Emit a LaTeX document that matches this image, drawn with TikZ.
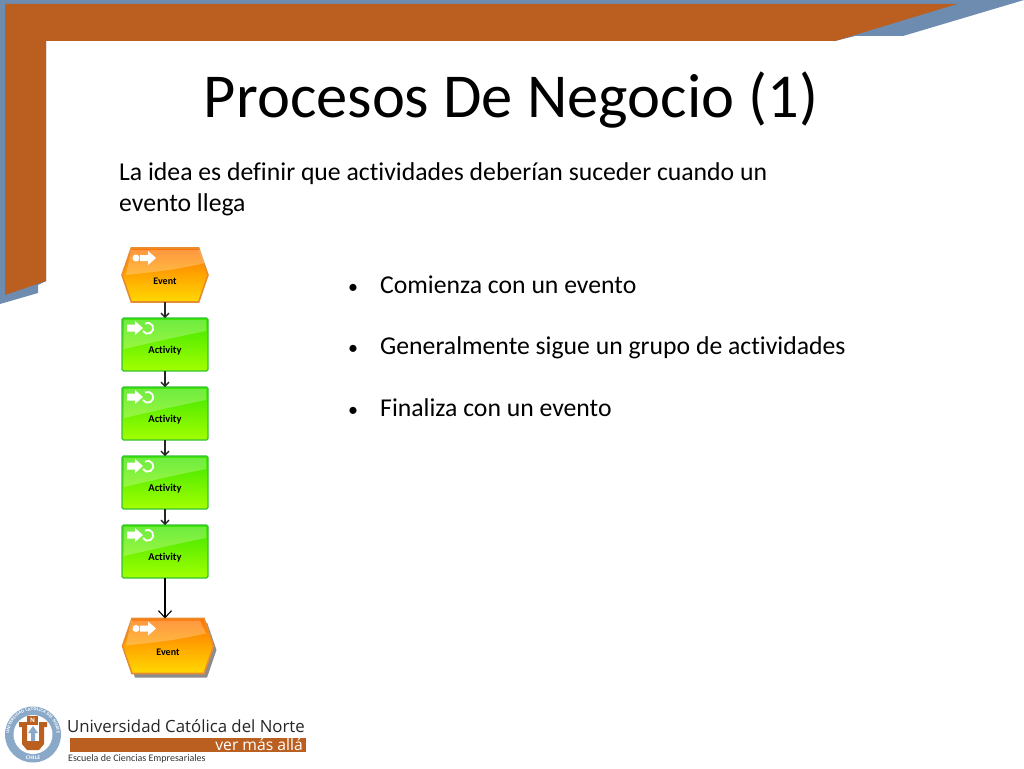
\documentclass[tikz,border=0pt]{standalone}
\usepackage{fontspec}
\setmainfont[RawFeature=-liga]{Carlito}
\newfontfamily\logofont{Open Sans}
\usetikzlibrary{positioning,arrows.meta,shapes.symbols,shadows,decorations.text}
\definecolor{bandorange}{HTML}{BA5F20}
\definecolor{bandblue}{HTML}{6E8BB0}
\definecolor{ringblue}{HTML}{8AA8C8}

\begin{document}
\begin{tikzpicture}[
    x=1pt,y=-1pt,
    eventbox/.style={signal,signal to=east and west,signal pointer angle=142,
		draw=orange!60!brown!90,line width=1.6pt,top color=orange!90!red,bottom color=yellow!70!orange,
		minimum width=86pt,minimum height=54pt,inner sep=0pt,outer sep=0pt,
		font=\bfseries\fontsize{10}{10}\selectfont,text height=19pt,text depth=0pt},
    activitybox/.style={rectangle,rounded corners=1.5pt,draw=green!70!black!80,line width=1.2pt,
		top color=green!65!lime!90!black,bottom color=lime!85!green,
		minimum width=86pt,minimum height=53pt,inner sep=0pt,outer sep=0pt,
		font=\bfseries\fontsize{10.5}{10.5}\selectfont,text height=18pt,text depth=0pt},
    flow/.style={draw=black!85,line width=1.3pt,-{Straight Barb[length=4pt,width=8pt]}},
    finalflow/.style={draw=black,line width=1.1pt,-{Straight Barb[length=7pt,width=13pt]}},
    bodytext/.style={anchor=base west,inner sep=0pt,font=\fontsize{25.7}{25.7}\selectfont,text=black},
    acticon/.pic={
	\fill[white,opacity=.25] (2,2) -- (84,2) -- (84,13) .. controls (50,20) .. (2,31) -- cycle;
	\fill[white] (5,6.5) -- (13,6.5) -- (13,3) -- (21,10) -- (13,17) -- (13,13.5) -- (5,13.5) -- cycle;
	\draw[white,line width=1.8pt] (23,5.5) arc (-120:150:5.5);
    },
    evicon/.pic={
	\fill[white,opacity=.25] (9,2) -- (78,2) -- (84,15) .. controls (50,22) .. (4,27) -- cycle;
	\fill[white] (14,10) circle (3.5);
	\fill[white] (18,7) -- (26,7) -- (26,3) -- (34,10) -- (26,17) -- (26,13) -- (18,13) -- cycle;
    }
]
    \useasboundingbox (0,0) rectangle (1024,768);

    % top band
    \fill[bandblue] (0,0) -- (1024,0) -- (903,36) -- (855,36) -- (835,41) -- (46,41) -- (46,281)
	-- (38,285) -- (38,293) -- (0,304) -- cycle;
    \fill[bandorange] (5,4) -- (957,4) -- (835,41) -- (46,41) -- (46,281) -- (5,295) -- cycle;

    \node (title) [anchor=base,inner sep=0pt,font=\fontsize{62.5}{62.5}\selectfont,text=black] at (511,117)
	{Procesos De Negocio (1)};
    \node (introa) [bodytext] at (119,180) {La idea es definir que actividades deberían suceder cuando un};
    \node (introb) [bodytext] at (119,211) {evento llega};

    \node (itema) [bodytext] at (348,293) {\makebox[32pt][l]{\fontsize{20}{20}\selectfont •}Comienza con un evento};
    \node (itemb) [bodytext] at (348,354) {\makebox[32pt][l]{\fontsize{20}{20}\selectfont •}Generalmente sigue un grupo de actividades};
    \node (itemc) [bodytext] at (348,416) {\makebox[32pt][l]{\fontsize{20}{20}\selectfont •}Finaliza con un evento};

    % the process
    \node (ev1) [eventbox] at (165,275) {Event};
    \node (act1) [activitybox,below=16pt of ev1] {Activity};
    \node (act2) [activitybox,below=16pt of act1] {Activity};
    \node (act3) [activitybox,below=16pt of act2] {Activity};
    \node (act4) [activitybox,below=16pt of act3] {Activity};
    \node (ev2) [eventbox,minimum width=91pt,minimum height=55pt,
	drop shadow={shadow xshift=3pt,shadow yshift=-4pt,fill=black!45,opacity=1}] at (168,646) {Event};

    \pic at (ev1.north -| act1.west) {evicon};
    \pic at (act1.north west) {acticon};
    \pic at (act2.north west) {acticon};
    \pic at (act3.north west) {acticon};
    \pic at (act4.north west) {acticon};
    \pic at (ev2.north -| act1.west) {evicon};

    \draw[flow] (ev1) -- (act1);
    \draw[flow] (act1) -- (act2);
    \draw[flow] (act2) -- (act3);
    \draw[flow] (act3) -- (act4);
    \draw[finalflow] (act4.south) -- (act4.south |- ev2.north);

    % logo
    \fill[ringblue] (33,734.5) circle (28);
    \fill[white] (33,734.5) circle (19.5);
    \path[postaction={decorate,decoration={text along path,text align=center,
	text={|\logofont\bfseries\fontsize{4.1}{4.1}\selectfont\color{white}|UNIVERSIDAD CATOLICA DEL NORTE}}}]
	(12.3,746.5) arc (150:390:23.9);
    \node (chile) [inner sep=0pt,text=white,font=\logofont\bfseries\fontsize{5}{5}\selectfont] at (33,758) {CHILE};
    \fill[bandorange] (19,722) -- (27,722) -- (27,741) -- (39,741) -- (39,722) -- (47,722) -- (47,727)
	-- (44,727) -- (44,744) -- (39,750) -- (27,750) -- (22,744) -- (22,727) -- (19,727) -- cycle;
    \fill[bandorange] (27,716) rectangle (38,725);
    \node (nmark) [inner sep=0pt,text=white,font=\logofont\bfseries\fontsize{6}{6}\selectfont] at (32.5,720.5) {N};
    \fill[ringblue] (33,726) -- (38,733) -- (35,733) -- (35,741) -- (31,741) -- (31,733) -- (28,733) -- cycle;

    \node (school) [anchor=base west,inner sep=0pt,font=\logofont\fontsize{16.8}{16.8}\selectfont,text=black!85] at (67,732)
	{Universidad Católica del Norte};
    \fill[bandorange] (70,738) rectangle (306,752);
    \node (motto) [anchor=base east,inner sep=0pt,font=\logofont\fontsize{15.7}{15.7}\selectfont,text=white] at (303,750.5)
	{ver más allá};
    \node (faculty) [anchor=base west,inner sep=0pt,font=\fontsize{10}{10}\selectfont,text=black!80] at (68,761)
	{Escuela de Ciencias Empresariales};
\end{tikzpicture}
\end{document}
